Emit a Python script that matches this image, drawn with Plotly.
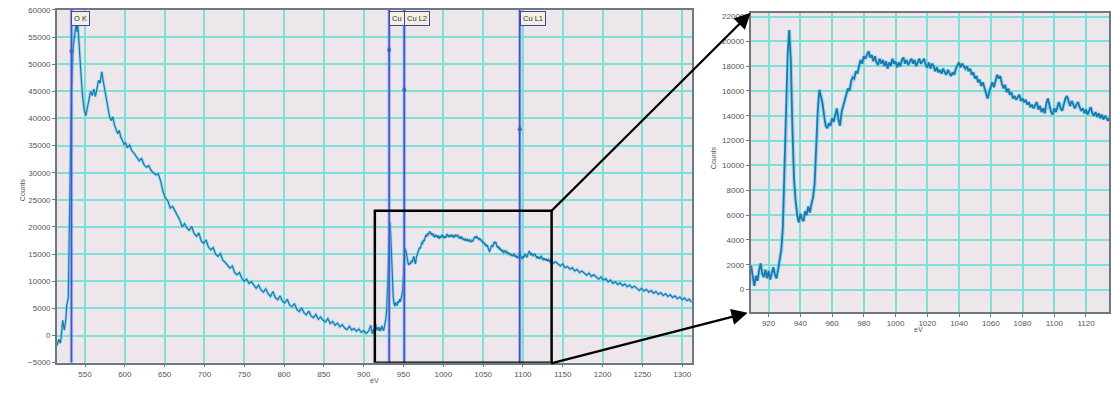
import plotly.graph_objects as go

# ---------------- data ----------------
ev_low = [515, 517, 519, 520, 522, 523, 524, 526, 527, 529, 531, 533, 535, 537, 539, 540, 541, 542, 543, 545,
          547, 549, 551, 553, 555, 557, 559, 561, 563, 565, 567, 569, 571, 573, 575, 577, 579, 581, 583, 585,
          587, 589, 591, 593, 595, 597, 599, 601, 603, 606, 609, 612, 615, 618, 621, 624, 627, 630, 633, 636,
          639, 642, 645, 648, 651, 654, 657, 660, 663, 666, 669, 672, 675, 678, 681, 684, 687, 690, 693, 696,
          699, 702, 705, 708, 711, 714, 717, 720, 723, 726, 729, 732, 735, 738, 741, 744, 747, 750, 753, 756,
          759, 762, 765, 768, 771, 774, 777, 780, 783, 786, 789, 792, 795, 798, 801, 804, 807, 810, 813, 816,
          819, 822, 825, 828, 831, 834, 837, 840, 843, 846, 849, 852, 855, 858, 861, 864, 867, 870, 873, 876,
          879, 882, 885, 888, 891, 894, 897, 900, 903, 906]
counts_low = [-1800, -700, -1400, -500, 2800, 1500, 1000, 3000, 5500, 7000, 25000, 45000, 53000, 55500, 57600, 56000, 57200, 55000, 52000, 48000,
              44000, 41500, 40500, 41800, 43500, 45000, 44200, 45400, 44000, 45800, 47000, 46500, 48600, 46800, 45000, 43200, 41500, 40200, 39600, 40300,
              38800, 38000, 37200, 37800, 36500, 36000, 35200, 35500, 34600, 35100, 34000, 33500, 32800, 32200, 32600, 31500, 31000, 31300, 30400, 30000,
              29600, 29800, 28500, 26500, 25300, 24800, 23500, 23800, 22900, 22200, 21300, 20000, 20600, 19800, 19400, 20100, 18800, 18300, 18900, 17400,
              17000, 17600, 16300, 15800, 16200, 15000, 14600, 15100, 13900, 13500, 13000, 12400, 12800, 11600, 11200, 11600, 10500, 10000, 10400, 9600,
              9900, 9200, 8700, 9300, 8400, 8000, 8600, 7700, 7200, 8100, 7000, 6600, 7300, 6300, 6000, 6700, 5600, 5300, 5900, 4800,
              4400, 5100, 4200, 3800, 4500, 3600, 3300, 3900, 3000, 3400, 2800, 2500, 3100, 2200, 2600, 1900, 2300, 1600, 2000, 1400,
              1100, 1700, 1000, 1300, 800, 1200, 600, 900, 400, 800]

ev_mid = [909, 910, 911, 912, 913, 914, 915, 916, 917, 918, 919, 920, 921, 922, 923, 924, 925, 926, 927, 928,
          929, 930, 931, 932, 933, 934, 935, 936, 937, 938, 939, 940, 941, 942, 943, 944, 945, 946, 947, 948,
          949, 950, 951, 952, 953, 954, 955, 956, 957, 958, 959, 960, 961, 962, 963, 964, 965, 966, 967, 968,
          969, 970, 971, 972, 973, 974, 975, 976, 977, 978, 979, 980, 981, 982, 983, 984, 985, 986, 987, 988,
          989, 990, 991, 992, 993, 994, 995, 996, 997, 998, 999, 1000, 1001, 1002, 1003, 1004, 1005, 1006, 1007, 1008,
          1009, 1010, 1011, 1012, 1013, 1014, 1015, 1016, 1017, 1018, 1019, 1020, 1021, 1022, 1023, 1024, 1025, 1026, 1027, 1028,
          1029, 1030, 1031, 1032, 1033, 1034, 1035, 1036, 1037, 1038, 1039, 1040, 1041, 1042, 1043, 1044, 1045, 1046, 1047, 1048,
          1049, 1050, 1051, 1052, 1053, 1054, 1055, 1056, 1057, 1058, 1059, 1060, 1061, 1062, 1063, 1064, 1065, 1066, 1067, 1068,
          1069, 1070, 1071, 1072, 1073, 1074, 1075, 1076, 1077, 1078, 1079, 1080, 1081, 1082, 1083, 1084, 1085, 1086, 1087, 1088,
          1089, 1090, 1091, 1092, 1093, 1094, 1095, 1096, 1097, 1098, 1099, 1100, 1101, 1102, 1103, 1104, 1105, 1106, 1107, 1108,
          1109, 1110, 1111, 1112, 1113, 1114, 1115, 1116, 1117, 1118, 1119, 1120, 1121, 1122, 1123, 1124, 1125, 1126, 1127, 1128,
          1129, 1130, 1131, 1132, 1133, 1134, 1135]
counts_mid = [1900, 900, 300, 1100, 700, 1500, 2100, 1300, 1000, 1600, 900, 1500, 800, 1300, 1800, 1200, 900, 1600, 2400, 3200,
              5000, 9500, 14500, 19000, 20900, 18500, 13000, 9000, 7200, 6000, 5400, 6100, 5700, 5500, 6300, 6000, 6700, 6200, 6900, 7400,
              8500, 11500, 14500, 16100, 15600, 15000, 14000, 13200, 13000, 13400, 13200, 13800, 13500, 14200, 14600, 13700, 13200, 14300, 14800, 15300,
              15800, 16200, 16000, 16800, 17100, 17000, 17600, 17400, 18000, 18500, 18200, 18800, 18600, 18900, 19200, 18700, 18900, 18400, 18800, 18300,
              18100, 18600, 18200, 18500, 18000, 18400, 17800, 18300, 18000, 18600, 18200, 18400, 17900, 18300, 18000, 18500, 18700, 18200, 18500, 18100,
              18400, 18600, 18200, 18500, 18000, 18300, 18600, 18200, 18400, 18600, 18100, 17900, 18300, 17800, 18200, 18000, 17600, 17900, 17500, 17700,
              17400, 17800, 17500, 17300, 17700, 17400, 17200, 17500, 17300, 17800, 18100, 18300, 17900, 18200, 18000, 17800, 18000, 17600, 17800, 17300,
              17500, 17000, 17200, 16700, 16900, 16400, 16700, 16200, 15800, 15400, 15900, 16400, 16700, 16300, 16800, 17300, 17000, 17200, 16600, 16200,
              16500, 15900, 16200, 15700, 15900, 15400, 15600, 15300, 15500, 15700, 15200, 15400, 15100, 15300, 14900, 15100, 14700, 14900, 14600, 14800,
              15100, 14500, 14800, 14300, 14600, 14200, 15000, 15400, 14700, 14300, 14100, 14600, 14300, 14800, 15100, 14600, 14400, 14900, 15400, 15600,
              15100, 14800, 15200, 14900, 14600, 14900, 15100, 14700, 14400, 14600, 14200, 14500, 14100, 14400, 14700, 14200, 14000, 14300, 13900, 14200,
              13800, 14100, 13700, 14000, 13800, 13600, 13900]

ev_high = [1138, 1141, 1144, 1147, 1150, 1153, 1156, 1159, 1162, 1165, 1168, 1171, 1174, 1177, 1180, 1183, 1186, 1189, 1192, 1195,
           1198, 1201, 1204, 1207, 1210, 1213, 1216, 1219, 1222, 1225, 1228, 1231, 1234, 1237, 1240, 1243, 1246, 1249, 1252, 1255,
           1258, 1261, 1264, 1267, 1270, 1273, 1276, 1279, 1282, 1285, 1288, 1291, 1294, 1297, 1300, 1303, 1306, 1309, 1312]
counts_high = [13300, 13600, 13100, 12800, 13200, 12500, 12700, 12200, 12500, 11900, 12200, 11600, 11900, 11400, 11100, 11500, 10900, 11200, 10700, 10400,
               10800, 10200, 10500, 9900, 10200, 9600, 9900, 9400, 9700, 9200, 9500, 9000, 9300, 8800, 9100, 8600, 8300, 8700, 8200, 8500,
               8000, 8300, 7800, 8100, 7600, 7900, 7400, 7700, 7200, 7500, 7000, 7300, 6800, 7100, 6600, 6900, 6400, 6700, 6100]

line_labels = ["O K", "Cu", "Cu L2", "Cu L1"]
line_ev = [533, 932, 951, 1096]
line_marker_counts = [52400, 52600, 45300, 38000]

main_x_ticks = [550, 600, 650, 700, 750, 800, 850, 900, 950, 1000, 1050, 1100, 1150, 1200, 1250, 1300]
main_y_ticks = [-5000, 0, 5000, 10000, 15000, 20000, 25000, 30000, 35000, 40000, 45000, 50000, 55000, 60000]
zoom_x_ticks = [920, 940, 960, 980, 1000, 1020, 1040, 1060, 1080, 1100, 1120]
zoom_y_ticks = [0, 2000, 4000, 6000, 8000, 10000, 12000, 14000, 16000, 18000, 20000, 22000]

zoom_box_ev = [914, 1136]
zoom_box_counts = [-5000, 23000]

assert len(ev_low) == len(counts_low), (len(ev_low), len(counts_low))
assert len(ev_mid) == len(counts_mid), (len(ev_mid), len(counts_mid))
assert len(ev_high) == len(counts_high), (len(ev_high), len(counts_high))

ev = ev_low + ev_mid + ev_high
counts = counts_low + counts_mid + counts_high

# ---------------- figure ----------------
W, H = 1111, 397
def px(x):
    return x / W
def py(y):
    return 1 - y / H

FONT = "Liberation Sans, Arial, sans-serif"
BG = "#EDE7EC"
GRID = "#7FE0D8"
AXLINE = "#6E7880"
TRACE = "#1C79AC"
HALO = "rgba(90,200,235,0.55)"

fig = go.Figure()

for xa, ya, w_halo, w_line in (("x", "y", 3.0, 1.2), ("x2", "y2", 4.0, 1.8)):
    fig.add_trace(go.Scatter(x=ev, y=counts, xaxis=xa, yaxis=ya, mode="lines",
                             line=dict(color=HALO, width=w_halo), hoverinfo="skip"))
    fig.add_trace(go.Scatter(x=ev, y=counts, xaxis=xa, yaxis=ya, mode="lines",
                             line=dict(color=TRACE, width=w_line)))

# element marker lines
for e in line_ev:
    fig.add_shape(type="line", xref="x", yref="y", x0=e, x1=e, y0=-5000, y1=60000,
                  line=dict(color="rgba(120,150,235,0.55)", width=3.5), layer="above")
    fig.add_shape(type="line", xref="x", yref="y", x0=e, x1=e, y0=-5000, y1=60000,
                  line=dict(color="#3F55CC", width=1.5), layer="above")

fig.add_trace(go.Scatter(x=line_ev, y=line_marker_counts, xaxis="x", yaxis="y", mode="markers",
                         marker=dict(symbol="diamond-tall", size=6, color="#2A3AA8")))

for lab, e in zip(line_labels, line_ev):
    fig.add_annotation(x=e, y=59700, xref="x", yref="y", text=lab, showarrow=False,
                       xanchor="left", yanchor="top", font=dict(family=FONT, size=7.5, color="#333333"),
                       bgcolor="#F3F0E2", bordercolor="#3C4A9C", borderwidth=1, borderpad=2)

# zoom rectangle
fig.add_shape(type="rect", xref="x", yref="y", x0=zoom_box_ev[0], x1=zoom_box_ev[1],
              y0=zoom_box_counts[0], y1=zoom_box_counts[1],
              line=dict(color="black", width=2.5), layer="above")

# arrows to inset
fig.add_annotation(x=px(752), y=py(9), xref="paper", yref="paper", ax=-201, ay=200,
                   text="", showarrow=True, arrowhead=2, arrowsize=1.4, arrowwidth=2.3,
                   arrowcolor="black")
fig.add_annotation(x=px(749), y=py(316), xref="paper", yref="paper", ax=-198, ay=51,
                   text="", showarrow=True, arrowhead=2, arrowsize=1.4, arrowwidth=2.3,
                   arrowcolor="black")

# axis titles
for (x, y, t, ang) in ((17, 190, "Counts", -90), (375, 391, "eV", 0),
                       (715, 157, "Counts", -90), (927, 339, "eV", 0)):
    fig.add_annotation(x=px(x), y=py(y), xref="paper", yref="paper", text=t, showarrow=False,
                       textangle=ang, font=dict(family=FONT, size=7, color="#555555"))

axis_common = dict(showgrid=True, gridcolor=GRID, gridwidth=1.5, zeroline=False,
                   showline=True, linecolor=AXLINE, linewidth=1.5, mirror=True,
                   ticks="outside", ticklen=3, tickcolor=AXLINE,
                   tickfont=dict(family=FONT, size=8, color="#555555"), tickformat="d")

fig.update_layout(
    width=W, height=H, autosize=False,
    margin=dict(l=0, r=0, t=0, b=0),
    paper_bgcolor="white", plot_bgcolor=BG,
    showlegend=False,
    xaxis=dict(domain=[px(57), px(693)], range=[514.7, 1312], tickvals=main_x_ticks,
               anchor="y", **axis_common),
    yaxis=dict(domain=[py(367), py(6)], range=[-5000, 60000], tickvals=main_y_ticks,
               anchor="x", **axis_common),
    xaxis2=dict(domain=[px(752), 1.0], range=[908.7, 1134.5], tickvals=zoom_x_ticks,
                anchor="y2", **axis_common),
    yaxis2=dict(domain=[py(315), py(9)], range=[-1800, 22300], tickvals=zoom_y_ticks,
                anchor="x2", **axis_common),
)

fig.write_html("out.html", config={"displayModeBar": False},
               post_script="document.body.style.margin='0';document.body.style.overflow='hidden';")
